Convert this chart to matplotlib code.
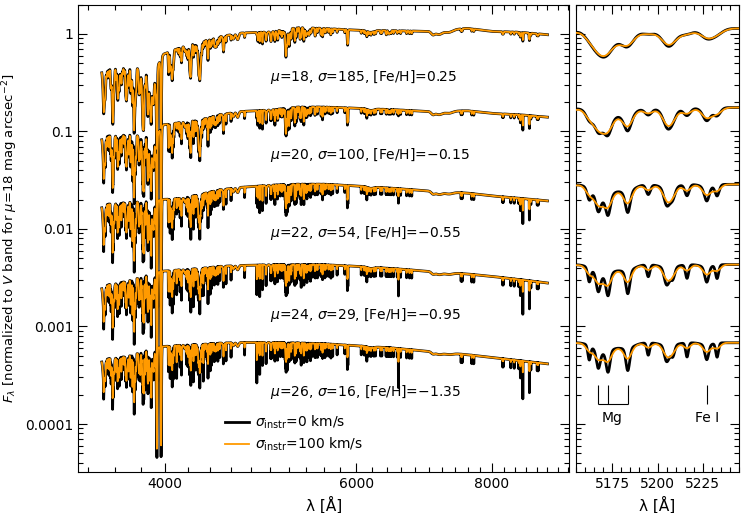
import numpy as np
import matplotlib
matplotlib.use("Agg")
import matplotlib.pyplot as plt
from matplotlib.ticker import FixedLocator, MultipleLocator, LogLocator, FuncFormatter, NullFormatter

# model galaxies, top to bottom
mu = [18, 20, 22, 24, 26]
sigma_gal = [185, 100, 54, 29, 16]          # km/s
feh = ["0.25", "\u22120.15", "\u22120.55", "\u22120.95", "\u22121.35"]
sigma_instr = [0, 100]                      # km/s

# continuum (upper envelope)
cont_wave = [3500, 3700, 3920, 3990, 4150, 4300, 4500, 4700, 5000,
             5300, 5600, 6000, 6500, 7000, 7600, 8000, 8500, 9000]
cont_mu18 = [0.45, 0.46, 0.42, 0.62, 0.74, 0.82, 0.94, 1.02, 1.05,
             1.16, 1.14, 1.09, 1.08, 1.06, 1.14, 1.06, 1.04, 0.98]
cont_mu20 = [0.090, 0.092, 0.088, 0.117, 0.124, 0.130, 0.149, 0.160, 0.166,
             0.178, 0.178, 0.173, 0.167, 0.160, 0.163, 0.153, 0.148, 0.140]
cont_mu22 = [0.0178, 0.0187, 0.0194, 0.0201, 0.0206, 0.0225, 0.0253, 0.0267, 0.0281,
             0.0288, 0.0288, 0.0276, 0.0261, 0.0245, 0.0233, 0.0218, 0.0206, 0.0194]
cont_mu24 = [0.00260, 0.00292, 0.00355, 0.00370, 0.00382, 0.00392, 0.00414, 0.00422, 0.00430,
             0.00431, 0.00430, 0.00414, 0.00392, 0.00367, 0.00345, 0.00326, 0.00302, 0.00279]
cont_mu26 = [0.000458, 0.000494, 0.000604, 0.000624, 0.000644, 0.000652, 0.000676, 0.000684, 0.000687,
             0.000679, 0.000666, 0.000635, 0.000600, 0.000555, 0.000513, 0.000481, 0.000445, 0.000414]
continua = [cont_mu18, cont_mu20, cont_mu22, cont_mu24, cont_mu26]

# line strengths scale with metallicity, Balmer lines the other way
metal_scale = [1.5, 1.3, 1.15, 1.0, 0.9]
balmer_scale = [0.2, 0.4, 0.6, 0.8, 1.0]

# blue metal lines below the 4000 A break (wavelength, optical depth)
blue_wave = [3513.8, 3526.0, 3537.0, 3545.6, 3554.9, 3565.4, 3570.1, 3581.2, 3585.3, 3594.6, 3608.9,
             3618.8, 3622.0, 3631.5, 3640.4, 3647.8, 3651.5, 3659.0, 3669.5, 3679.9, 3683.0, 3687.5,
             3705.6, 3709.2, 3719.9, 3722.6, 3727.6, 3733.3, 3734.9, 3737.1, 3743.4, 3745.6, 3748.3,
             3749.5, 3758.2, 3763.8, 3767.2, 3787.9, 3795.0, 3799.5, 3806.7, 3812.9, 3815.8, 3820.4,
             3824.4, 3825.9, 3827.8, 3834.2, 3840.4, 3841.0, 3850.0, 3856.4, 3859.9, 3865.5, 3872.5,
             3878.6, 3886.3, 3887.0, 3895.7, 3899.7, 3902.9, 3906.5, 3920.3, 3922.9, 3927.9, 3930.3]
blue_tau = [0.5, 0.4, 0.35, 0.4, 0.45, 0.5, 0.6, 0.8, 0.45, 0.35, 0.6,
            0.65, 0.35, 0.6, 0.4, 0.6, 0.35, 0.3, 0.35, 0.55, 0.35, 0.45,
            0.6, 0.45, 0.8, 0.5, 0.45, 0.5, 0.75, 0.7, 0.45, 0.6, 0.55,
            0.7, 0.6, 0.55, 0.45, 0.45, 0.45, 0.5, 0.35, 0.35, 0.6, 0.8,
            0.45, 0.65, 0.5, 0.55, 0.5, 0.45, 0.45, 0.6, 0.75, 0.4, 0.5,
            0.55, 0.65, 0.4, 0.5, 0.55, 0.5, 0.6, 0.5, 0.55, 0.55, 0.5]

# strong individual lines
strong_wave = [4045.8, 4226.7, 4383.5, 5167.3, 5172.7, 5183.6, 5204.5, 5206.0, 5208.4,
               5227.2, 5269.5, 5328.0, 5889.9, 5895.9, 8498.0, 8542.1, 8662.1]
strong_tau = [0.8, 0.9, 0.8, 0.45, 0.55, 0.6, 0.3, 0.25, 0.3,
              0.4, 0.5, 0.4, 0.6, 0.5, 0.5, 1.1, 0.9]

# forest of weaker metal lines
green_wave = [4030.8, 4033.1, 4034.5, 4063.6, 4071.7, 4077.7, 4118.5, 4132.1, 4143.9, 4187.0,
              4191.4, 4199.1, 4202.0, 4215.5, 4222.2, 4233.6, 4235.9, 4250.1, 4250.8, 4260.5,
              4271.8, 4282.4, 4294.1, 4299.2, 4307.9, 4315.1, 4325.8, 4337.0, 4352.7, 4375.9,
              4404.8, 4415.1, 4427.3, 4442.3, 4447.7, 4454.8, 4461.7, 4466.6, 4476.0, 4482.2,
              4494.6, 4528.6, 4531.1, 4554.0, 4602.9, 4736.8, 4871.3, 4872.1, 4890.8, 4891.5,
              4919.0, 4920.5, 4957.6, 5006.1, 5012.1, 5041.1, 5049.8, 5051.6, 5068.8, 5079.7,
              5083.3, 5110.4, 5123.7, 5127.4, 5139.5, 5150.8, 5162.3, 5194.9, 5216.3, 5232.9,
              5266.6, 5281.8, 5283.6, 5302.3, 5324.2, 5332.9, 5339.9, 5341.0, 5367.5, 5369.9,
              5371.5, 5383.4, 5393.2, 5397.1, 5405.8, 5415.2, 5424.1, 5429.7, 5434.5, 5446.9,
              5455.6, 5497.5, 5501.5, 5506.8, 5528.4, 5569.6, 5572.8, 5586.8, 5588.8, 5615.6,
              5624.5, 5658.8, 5682.6, 5688.2, 5709.4, 5763.0]
green_tau = [0.7, 0.55, 0.5, 0.8, 0.8, 0.55, 0.4, 0.6, 0.7, 0.4,
             0.55, 0.5, 0.6, 0.55, 0.5, 0.4, 0.4, 0.6, 0.55, 0.7,
             0.7, 0.4, 0.5, 0.4, 0.7, 0.4, 0.7, 0.4, 0.35, 0.4,
             0.75, 0.6, 0.4, 0.5, 0.4, 0.4, 0.4, 0.4, 0.5, 0.4,
             0.4, 0.5, 0.4, 0.5, 0.4, 0.35, 0.4, 0.4, 0.5, 0.5,
             0.5, 0.55, 0.55, 0.4, 0.4, 0.4, 0.4, 0.5, 0.4, 0.5,
             0.4, 0.4, 0.35, 0.35, 0.4, 0.35, 0.4, 0.35, 0.4, 0.4,
             0.4, 0.4, 0.5, 0.4, 0.35, 0.4, 0.4, 0.4, 0.4, 0.4,
             0.5, 0.35, 0.4, 0.5, 0.5, 0.4, 0.4, 0.4, 0.35, 0.5,
             0.4, 0.4, 0.35, 0.4, 0.4, 0.35, 0.35, 0.4, 0.4, 0.4,
             0.35, 0.35, 0.35, 0.4, 0.35, 0.3]
red_wave = [5857.5, 6065.5, 6102.7, 6122.2, 6136.6, 6137.7, 6162.2, 6191.6, 6230.7, 6252.6,
            6318.0, 6335.3, 6393.6, 6400.0, 6421.4, 6430.8, 6439.1, 6449.8, 6462.6, 6494.9,
            6546.2, 6592.9, 6677.0, 6717.7, 6750.2, 7495.1, 7511.0, 7664.9, 7699.0, 8183.3,
            8194.8, 8327.1, 8387.8, 8468.4, 8514.1, 8688.6, 8806.8, 8824.2]
red_tau = 0.25

# broad blends and molecular bands (wavelength, optical depth, width in A)
broad_wave = [3517, 3584, 3625, 3690, 3752, 3790, 3820, 3860, 3883, 3910,
              4060, 4144, 4175, 4220, 4305, 4383, 4455, 4531, 4625, 4668, 4960, 5010,
              5170, 5183, 5206, 5227, 5270, 5335, 5406, 5892, 6190, 7060, 7150, 7300]
broad_tau = [0.6, 0.6, 0.3, 0.4, 0.6, 0.3, 0.6, 0.4, 0.6, 0.3,
             0.35, 0.12, 0.1, 0.35, 0.5, 0.12, 0.06, 0.08, 0.08, 0.1, 0.05, 0.06,
             0.28, 0.15, 0.09, 0.06, 0.05, 0.04, 0.03, 0.08, 0.03, 0.05, 0.06, 0.04]
broad_width = [8, 7, 6, 6, 6, 5, 6, 5, 8, 5,
               8, 5, 6, 6, 10, 5, 6, 8, 8, 10, 8, 8,
               5, 4, 4, 3, 4, 4, 4, 4, 40, 25, 50, 60]

# Balmer lines and Ca II H & K
balmer_wave = [3798, 3835, 3889, 4101.7, 4340.5, 4861.3, 6562.8]
balmer_tau = [0.4, 0.5, 0.6, 0.8, 0.9, 1.0, 1.0]
hk_wave = [3933.7, 3968.5]
hk_tau = [2.6, 2.6]

# where the labels sit
label_flux = [0.365, 0.0574, 0.00903, 0.00131, 0.000214]
mg_wave = [5167.3, 5172.7, 5183.6]
fe_wave = [5227.2]

c_kms = 299792.458
dv = 10.0
lam = np.exp(np.arange(np.log(3500), np.log(9000), dv / c_kms))


def optical_depth(wave, tau, width):
    t = np.zeros_like(lam)
    tau = np.broadcast_to(tau, (len(wave),))
    width = np.broadcast_to(width, (len(wave),))
    for w0, t0, s in zip(wave, tau, width):
        m = np.abs(lam - w0) < 6 * s
        t[m] += t0 * np.exp(-0.5 * ((lam[m] - w0) / s) ** 2)
    return t


def smooth(flux, sig_kms):
    # gaussian broadening in velocity space
    if sig_kms <= 0:
        return flux
    s = sig_kms / dv
    half = int(5 * s) + 1
    k = np.exp(-0.5 * (np.arange(-half, half + 1) / s) ** 2)
    k /= k.sum()
    return np.convolve(np.pad(flux, half, mode="edge"), k, mode="valid")


tau_metal = (optical_depth(blue_wave, blue_tau, 1.0)
             + optical_depth(strong_wave, strong_tau, 1.0)
             + optical_depth(green_wave, green_tau, 0.7)
             + optical_depth(red_wave, red_tau, 0.8)
             + optical_depth(broad_wave, broad_tau, broad_width))
tau_balmer = optical_depth(balmer_wave, balmer_tau, 0.9)
tau_hk = optical_depth(hk_wave, hk_tau, 3.0)

fig = plt.figure(figsize=(7.47, 5.13), dpi=100)
ax = fig.add_axes([0.1048, 0.0799, 0.6569, 0.9113])
ax2 = fig.add_axes([0.7711, 0.0799, 0.2182, 0.9113], sharey=ax)

orange = "#ff9a00"
for i in range(len(mu)):
    cont = 10 ** np.interp(lam, cont_wave, np.log10(continua[i]))
    flux = cont * np.exp(-(metal_scale[i] * tau_metal + balmer_scale[i] * tau_balmer + tau_hk))
    black = smooth(flux, np.hypot(sigma_gal[i], sigma_instr[0]))
    orng = smooth(flux, np.hypot(sigma_gal[i], sigma_instr[1]))
    for a in (ax, ax2):
        l1, = a.plot(lam, black, color="black", lw=2.0, zorder=2)
        l2, = a.plot(lam, orng, color=orange, lw=1.3, zorder=3)
    ax.text(5000, label_flux[i],
            r"$\mu$=%d, $\sigma$=%d, [Fe/H]=%s" % (mu[i], sigma_gal[i], feh[i]),
            va="center", ha="left", fontsize=10)

ax.legend([l1, l2], [r"$\sigma_{\rm instr}$=%d km/s" % s for s in sigma_instr],
          loc="lower left", bbox_to_anchor=(0.300, 0.040), frameon=False,
          borderpad=0, borderaxespad=0, handlelength=1.7, handletextpad=0.4,
          labelspacing=0.35, fontsize=10)

ax.set_xscale("log")
ax.set_yscale("log")
ax.set_xlim(3330, 9420)
ax.set_ylim(3.22e-5, 2.0)
ax.xaxis.set_major_locator(FixedLocator([4000, 6000, 8000]))
ax.xaxis.set_minor_locator(MultipleLocator(200))
ax.xaxis.set_major_formatter(FuncFormatter(lambda v, p: "%d" % v))
ax.xaxis.set_minor_formatter(NullFormatter())
ax.yaxis.set_major_locator(LogLocator(base=10))
ax.yaxis.set_minor_locator(LogLocator(base=10, subs=np.arange(2, 10)))
ax.yaxis.set_major_formatter(FuncFormatter(lambda v, p: "%g" % v))
ax.yaxis.set_minor_formatter(NullFormatter())
ax.set_xlabel("λ [Å]", fontsize=11)
ax.set_ylabel(r"$F_\lambda$ [normalized to $V$ band for $\mu$=18 mag arcsec$^{-2}$]", fontsize=9.5)
ax.yaxis.set_label_coords(-0.118, 0.5)

ax2.set_xlim(5155, 5245)
ax2.xaxis.set_major_locator(MultipleLocator(25))
ax2.xaxis.set_minor_locator(MultipleLocator(5))
ax2.set_xlabel("λ [Å]", fontsize=11)
ax2.tick_params(labelleft=False)

# line identifications
ax2.vlines(mg_wave, 1.6e-4, 2.51e-4, color="black", lw=0.8)
ax2.hlines(1.6e-4, mg_wave[0], mg_wave[-1], color="black", lw=0.8)
ax2.vlines(fe_wave, 1.6e-4, 2.51e-4, color="black", lw=0.8)
ax2.text(np.mean(mg_wave[:2]) + 5, 1.15e-4, "Mg", ha="center", va="center", fontsize=10)
ax2.text(fe_wave[0], 1.15e-4, "Fe I", ha="center", va="center", fontsize=10)

for a in (ax, ax2):
    a.tick_params(which="both", direction="in", top=True, right=True, labelsize=10)
    a.tick_params(which="major", length=6.5, width=0.8)
    a.tick_params(which="minor", length=3.5, width=0.8)

fig.savefig("out.png", dpi=100)
